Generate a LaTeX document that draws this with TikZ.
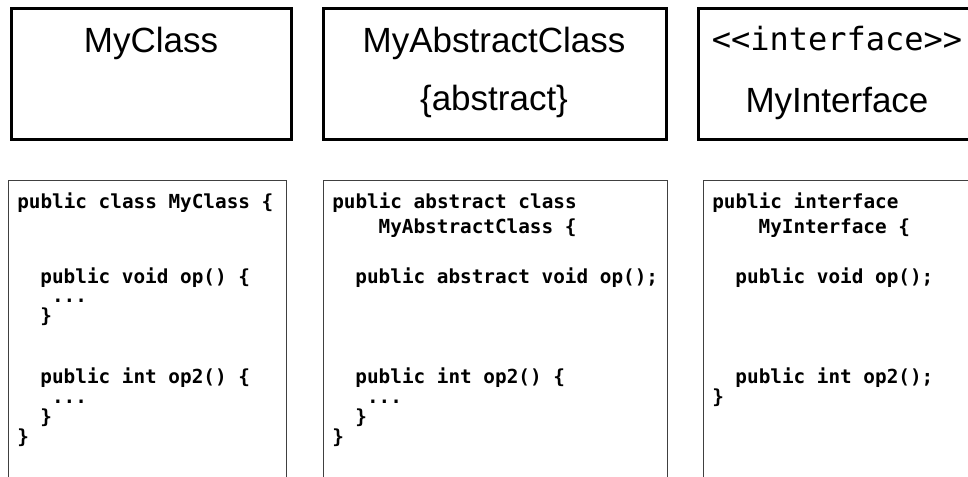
\documentclass[tikz,border=0pt]{standalone}
\usepackage{fontspec}
\setmainfont{Liberation Sans}
\setmonofont{DejaVu Sans Mono}
\begin{document}
\begin{tikzpicture}[x=0.75pt,y=-0.75pt,
  titlebox/.style={draw=black, line width=2.25pt},
  codebox/.style={draw=black!75, line width=0.75pt},
  title/.style={font=\fontsize{26.25}{30}\selectfont, inner sep=0pt, anchor=base},
  stereo/.style={font=\ttfamily\fontsize{24}{28}\selectfont, inner sep=0pt, anchor=base},
  code/.style={font=\ttfamily\bfseries\fontsize{14.5}{17}\selectfont, inner sep=0pt, anchor=base west}]
\useasboundingbox (0,0) rectangle (968,477);
\fill[white] (0,0) rectangle (968,477);
\clip (0,0) rectangle (968,477);

% UML class boxes
\draw[titlebox] (11,9) rectangle (291,140);
\draw[titlebox] (323,9) rectangle (666,140);
\draw[titlebox] (698,9) rectangle (976,140);

\node[title] (cls) at (151,53) {MyClass};
\node[title] (abs) at (494,53) {MyAbstractClass};
\node[title] (absmark) at (494,111) {\{abstract\}};
\node[stereo] (ster) at (837,51) {<\kern0pt<interface>\kern0pt>};
\node[title] (ifc) at (837,113) {MyInterface};

% Java source boxes
\draw[codebox] (8,181) rectangle (286,500);
\draw[codebox] (323,181) rectangle (667,500);
\draw[codebox] (703,181) rectangle (990,500);

% concrete class
\node[code] (a1) at (17,209) {public class MyClass \{};
\node[code] (a2) at (17+2*11.6,284) {public void op() \{};
\node[code] (a3) at (17+3*11.6,303) {...};
\node[code] (a4) at (17+2*11.6,323) {\}};
\node[code] (a5) at (17+2*11.6,383) {public int op2() \{};
\node[code] (a6) at (17+3*11.6,403) {...};
\node[code] (a7) at (17+2*11.6,423) {\}};
\node[code] (a8) at (17,443) {\}};

% abstract class
\node[code] (b1) at (332,209) {public abstract class};
\node[code] (b2) at (332+4*11.6,234) {MyAbstractClass \{};
\node[code] (b3) at (332+2*11.6,284) {public abstract void op();};
\node[code] (b4) at (332+2*11.6,383) {public int op2() \{};
\node[code] (b5) at (332+3*11.6,403) {...};
\node[code] (b6) at (332+2*11.6,423) {\}};
\node[code] (b7) at (332,443) {\}};

% interface
\node[code] (c1) at (712,209) {public interface};
\node[code] (c2) at (712+4*11.6,234) {MyInterface \{};
\node[code] (c3) at (712+2*11.6,284) {public void op();};
\node[code] (c4) at (712+2*11.6,383) {public int op2();};
\node[code] (c5) at (712,403) {\}};
\end{tikzpicture}
\end{document}
